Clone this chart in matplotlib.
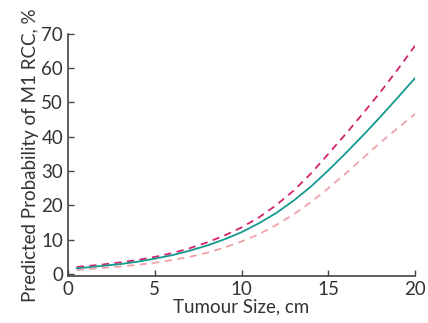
import matplotlib
matplotlib.use('Agg')
import matplotlib.pyplot as plt

# tumour size (cm) and predicted probability (%)
size_cm = [0.5, 1, 2, 3, 4, 5, 6, 7, 8, 9, 10, 11, 12, 13, 14, 15, 16, 17, 18, 19, 20]
prob_mid = [1.7, 1.9, 2.4, 2.9, 3.6, 4.5, 5.5, 6.8, 8.3, 10.1, 12.2, 14.8, 17.8,
            21.4, 25.5, 30.2, 35.2, 40.4, 45.8, 51.4, 57.1]
prob_upper = [2.1, 2.3, 2.8, 3.4, 4.1, 5.0, 6.1, 7.5, 9.2, 11.2, 13.6, 16.5, 20.1,
              24.3, 29.3, 35.0, 40.8, 46.8, 53.0, 59.6, 66.5]
prob_lower = [1.2, 1.4, 1.8, 2.2, 2.7, 3.3, 4.1, 5.0, 6.2, 7.7, 9.5, 11.6, 14.3,
              17.4, 21.0, 25.0, 29.3, 33.8, 38.3, 42.5, 46.6]

xticks = [0, 5, 10, 15, 20]
yticks = [0, 10, 20, 30, 40, 50, 60, 70]

plt.rcParams['font.family'] = ['Lato', 'DejaVu Sans']
txt = '#333333'

fig = plt.figure(figsize=(4.28, 3.23), dpi=100)
ax = fig.add_axes([0.159, 0.145, 0.811, 0.751])

ax.plot(size_cm, prob_upper, color='#d4236e', lw=1.3, dashes=(4, 3))
ax.plot(size_cm, prob_mid, color='#139a8c', lw=1.3)
ax.plot(size_cm, prob_lower, color='#f0a2a8', lw=1.3, dashes=(4, 3))

ax.set_xlim(0, 20)
ax.set_ylim(-0.6, 70)
ax.set_xticks(xticks)
ax.set_yticks(yticks)
ax.tick_params(direction='in', length=4, width=1, colors='#444444',
               labelcolor=txt, labelsize=13.5)
for s in ['top', 'right']:
    ax.spines[s].set_visible(False)
for s in ['left', 'bottom']:
    ax.spines[s].set_color('#444444')
    ax.spines[s].set_linewidth(1.2)

ax.set_xlabel('Tumour Size, cm', fontsize=13.5, color=txt, labelpad=0)
ax.set_ylabel('Predicted Probability of M1 RCC, %', fontsize=13.5, color=txt, labelpad=2)

fig.savefig('out.png', dpi=100)
